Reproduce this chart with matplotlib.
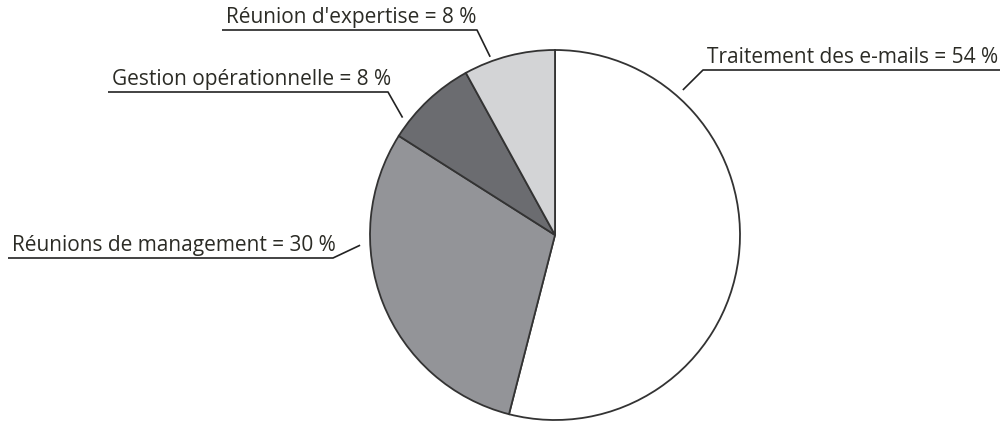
import matplotlib
matplotlib.use("Agg")
import matplotlib.pyplot as plt
import numpy as np
from matplotlib import font_manager

categories = ["Traitement des e-mails", "Réunions de management",
              "Gestion opérationnelle", "Réunion d'expertise"]
values = [54, 30, 8, 8]
labels = ["Traitement des e-mails = 54 %", "Réunions de management = 30 %",
          "Gestion opérationnelle = 8 %", "Réunion d'expertise = 8 %"]
colors = ["#ffffff", "#939498", "#6b6c70", "#d3d4d6"]

names = {f.name for f in font_manager.fontManager.ttflist}
fam = ["Liberation Sans Narrow", "DejaVu Sans"] if "Liberation Sans Narrow" in names else ["Open Sans", "DejaVu Sans"]

W, H = 1000, 421
fig = plt.figure(figsize=(W / 100, H / 100), dpi=100)
ax = fig.add_axes([0, 0, 1, 1])
ax.set_xlim(0, W)
ax.set_ylim(0, H)
ax.set_aspect("equal")
ax.axis("off")

cx, cy, r = 555, H - 235, 185
ax.pie(values, colors=colors, startangle=90, counterclock=False,
       center=(cx, cy), radius=r, frame=True,
       wedgeprops=dict(edgecolor="#333333", linewidth=1.3))
ax.set_xlim(0, W)
ax.set_ylim(0, H)
ax.axis("off")

# label layout: (angle clockwise from top of leader start, radius factor,
#                elbow x, underline y (px from top), underline far end x, text side)
layout = [
    (41.4, 1.045, 703, 70, 1000, "right"),
    (267.0, 1.055, 333, 258, 8, "left"),
    (307.6, 1.04, 388, 92, 108, "left"),
    (340.0, 1.025, 477, 30, 222, "left"),
]
tc = "#2b2b25"
for lab, (ang, rf, ex, uy, fx, side) in zip(labels, layout):
    a = np.deg2rad(ang)
    px = cx + rf * r * np.sin(a)
    py = cy + rf * r * np.cos(a)
    yy = H - uy
    ax.plot([px, ex, fx], [py, yy, yy], color="#222222", lw=1.2,
            solid_capstyle="butt", clip_on=False)
    if side == "right":
        tx = ex + 4
        ha = "left"
        ax.text(tx, yy + 7, lab, ha="left", va="baseline", fontsize=15,
                family=fam, color=tc)
    else:
        tx = fx + 4
        ax.text(tx, yy + 7, lab, ha="left", va="baseline", fontsize=15,
                family=fam, color=tc)

fig.savefig("out.png", dpi=100)
